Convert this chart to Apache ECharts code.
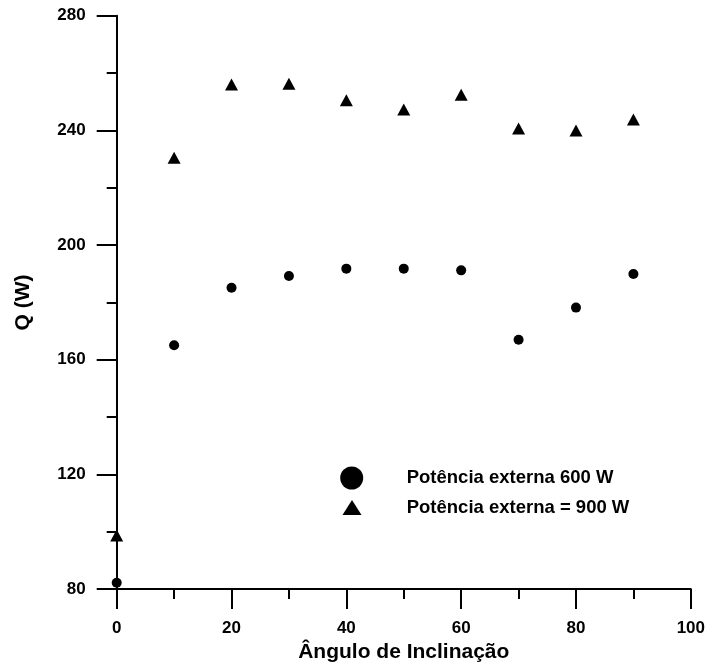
<!DOCTYPE html>
<html>
<head>
<meta charset="utf-8">
<script src="https://cdn.jsdelivr.net/npm/echarts@6/dist/echarts.min.js"></script>
<style>
  html, body { margin: 0; padding: 0; background: #fff; }
  #chart { width: 708px; height: 668px; }
</style>
</head>
<body>
<div id="chart"></div>
<script>
! function() {
    'use strict'
    var angles = [0, 10, 20, 30, 40, 50, 60, 70, 80, 90];
    var q600 = [82.2, 165.1, 185.1, 189.2, 191.8, 191.8, 191.2, 167.0, 178.2, 189.9];
    var q900 = [98.7, 230.5, 256.0, 256.3, 250.5, 247.3, 252.5, 240.7, 240.0, 243.8];
    var seriesNames = ['Potência externa 600 W', 'Potência externa = 900 W'];

    var font = 'Liberation Sans, Arial, sans-serif';
    var chart = echarts.init(document.getElementById('chart'));

    function pairs(ys) {
        return angles.map(function(a, i) { return [a, ys[i]]; });
    }

    var axisCommon = {
        axisLine: { lineStyle: { color: '#000', width: 2 } },
        axisTick: { inside: false, length: 20, lineStyle: { color: '#000', width: 2 } },
        minorTick: { show: true, splitNumber: 2, length: 10, lineStyle: { color: '#000', width: 2 } },
        splitLine: { show: false },
        axisLabel: { color: '#000', fontFamily: font, fontWeight: 'bold', fontSize: 17, margin: 31 },
        nameTextStyle: { color: '#000', fontFamily: font, fontWeight: 'bold', fontSize: 21 }
    };

    var legendText = { color: '#000', fontFamily: font, fontWeight: 'bold', fontSize: 18.5 };

    var option = {
        animation: false,
        backgroundColor: '#fff',
        grid: { left: 116.7, right: 15.3, top: 15.8, bottom: 76 },
        xAxis: Object.assign({
            type: 'value',
            min: 0,
            max: 100,
            interval: 20,
            name: 'Ângulo de Inclinação',
            nameLocation: 'middle',
            nameGap: 47
        }, axisCommon),
        yAxis: Object.assign({
            type: 'value',
            min: 80,
            max: 280,
            interval: 40,
            name: 'Q (W)',
            nameLocation: 'middle',
            nameGap: 83
        }, axisCommon),
        legend: [{
            left: 335.2,
            top: 461.5,
            itemWidth: 23,
            itemHeight: 23,
            textStyle: Object.assign({ padding: [0, 0, 0, 38.5] }, legendText),
            data: [{ name: seriesNames[0], icon: 'circle' }]
        }, {
            left: 337.5,
            top: 493,
            itemWidth: 19,
            itemHeight: 15,
            textStyle: Object.assign({ padding: [0, 0, 0, 40.2] }, legendText),
            data: [{ name: seriesNames[1], icon: 'triangle' }]
        }],
        series: [{
            name: seriesNames[0],
            type: 'scatter',
            symbol: 'circle',
            symbolSize: 10,
            itemStyle: { color: '#000', opacity: 1 },
            data: pairs(q600)
        }, {
            name: seriesNames[1],
            type: 'scatter',
            symbol: 'triangle',
            symbolSize: [13, 12],
            itemStyle: { color: '#000', opacity: 1 },
            data: pairs(q900)
        }]
    };
    chart.setOption(option);
}()
</script>
</body>
</html>
